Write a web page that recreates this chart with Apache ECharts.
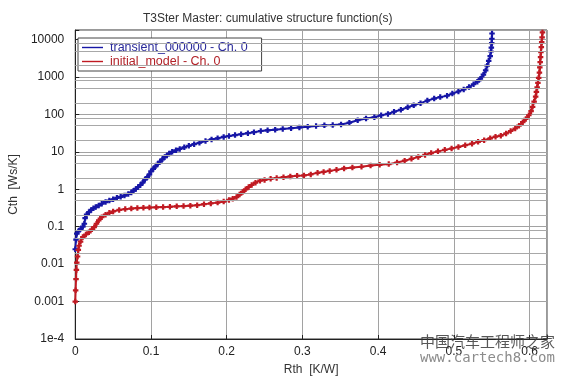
<!DOCTYPE html>
<html>
<head>
<meta charset="utf-8">
<script src="https://cdn.jsdelivr.net/npm/echarts@6/dist/echarts.min.js"></script>
<style>
html,body{margin:0;padding:0;background:#fff;}
#chart{width:565px;height:381px;}
</style>
</head>
<body>
<div id="chart"></div>
<script>
// ---- data ----
const titleText = 'T3Ster Master: cumulative structure function(s)';
const seriesNames = ['transient_000000 - Ch. 0', 'initial_model - Ch. 0'];
const xTickLabels = ['0', '0.1', '0.2', '0.3', '0.4', '0.5', '0.6'];
const yTickLabels = ['1e-4', '0.001', '0.01', '0.1', '1', '10', '100', '1000', '10000'];

// transient_000000 : [Rth K/W, Cth Ws/K]
const transientRth = [0.000,0.001,0.002,0.004,0.007,0.010,0.012,0.013,0.015,0.018,0.021,0.024,0.027,0.031,0.035,0.040,0.045,0.050,0.055,0.060,0.065,0.070,0.074,0.077,0.080,0.083,0.086,0.089,0.092,0.095,0.098,0.100,0.103,0.106,0.109,0.112,0.115,0.118,0.121,0.124,0.128,0.133,0.138,0.144,0.150,0.157,0.164,0.172,0.180,0.188,0.196,0.203,0.211,0.219,0.228,0.236,0.245,0.254,0.264,0.274,0.285,0.296,0.307,0.318,0.329,0.340,0.351,0.362,0.373,0.384,0.395,0.404,0.413,0.421,0.430,0.439,0.447,0.456,0.465,0.474,0.482,0.491,0.498,0.506,0.513,0.520,0.526,0.531,0.535,0.539,0.542,0.544,0.546,0.548,0.549,0.5495,0.550,0.5502,0.5504];
const transientCth = [0.025,0.045,0.065,0.075,0.088,0.10,0.12,0.17,0.21,0.245,0.28,0.31,0.335,0.37,0.41,0.455,0.50,0.54,0.59,0.63,0.68,0.75,0.82,0.92,1.02,1.15,1.3,1.5,1.8,2.1,2.5,3.0,3.5,4.1,4.8,5.5,6.3,7.2,8.0,9.0,10.0,11.0,12.0,13.2,14.5,16.0,17.5,19.5,21.5,23.0,25.0,26.5,28.0,29.5,31.5,33.5,36.0,37.5,39,41,43,45,47,49,51,52,54,60,70,78,84,95,103,118,133,155,175,200,234,265,290,315,360,410,465,540,640,750,900,1150,1500,2000,2700,3600,4800,6100,8000,10500,14500];

// initial_model : [Rth K/W, Cth Ws/K]
const initialRth = [0.000,0.0005,0.001,0.0015,0.002,0.003,0.004,0.005,0.007,0.010,0.014,0.018,0.022,0.025,0.028,0.031,0.035,0.040,0.045,0.050,0.058,0.066,0.074,0.082,0.090,0.098,0.107,0.116,0.125,0.134,0.143,0.152,0.161,0.170,0.179,0.188,0.196,0.203,0.208,0.213,0.217,0.221,0.225,0.229,0.233,0.238,0.244,0.250,0.258,0.266,0.275,0.284,0.293,0.302,0.311,0.320,0.328,0.336,0.345,0.355,0.366,0.378,0.390,0.402,0.414,0.425,0.435,0.444,0.453,0.462,0.470,0.479,0.488,0.497,0.506,0.515,0.524,0.532,0.540,0.548,0.555,0.562,0.569,0.575,0.581,0.586,0.591,0.595,0.599,0.602,0.604,0.606,0.608,0.609,0.610,0.611,0.612,0.613,0.6135,0.614,0.6145,0.615,0.6155,0.616,0.6165,0.617];
const initialCth = [0.001,0.002,0.004,0.007,0.011,0.016,0.024,0.031,0.040,0.053,0.062,0.071,0.085,0.097,0.12,0.148,0.18,0.21,0.235,0.255,0.28,0.295,0.305,0.315,0.32,0.325,0.33,0.335,0.34,0.35,0.355,0.365,0.375,0.40,0.42,0.44,0.47,0.52,0.56,0.62,0.72,0.85,1.0,1.15,1.3,1.5,1.7,1.78,1.9,2.0,2.1,2.2,2.3,2.35,2.5,2.75,2.9,3.1,3.3,3.6,3.8,4.0,4.3,4.5,4.7,5.2,5.8,6.5,7.3,8.3,9.3,10.3,11.3,12.3,13.5,15,16.5,18.5,20.5,23,25.5,27,31,36,42,50,62,76,95,122,160,220,300,400,530,700,950,1300,1800,2500,3400,4600,6300,8500,11500,15500];

// minor grid mantissas per decade
const minorMantissas = [2, 5, 8];

const pairs = (xs, ys) => xs.map((x, i) => [x, ys[i]]);
const yMin = 1e-4, yMax = 18000, xMax = 0.623;
const minorLines = [];
for (let k = -4; k <= 4; k++) {
  minorMantissas.forEach(m => {
    const v = m * Math.pow(10, k);
    if (v < yMax) minorLines.push({ yAxis: v });
  });
}

const plusSymbol = 'path://M1.2,0H2.8V1.2H4V2.8H2.8V4H1.2V2.8H0V1.2H1.2Z';
const font = 'Liberation Sans, Arial, sans-serif';
const blue = '#1616a6';
const red = '#c01a22';

const chart = echarts.init(document.getElementById('chart'));
chart.setOption({
  animation: false,
  backgroundColor: '#fff',
  textStyle: { fontFamily: font },
  title: {
    text: titleText, left: 138, top: 8,
    textStyle: { fontSize: 12, fontWeight: 'normal', color: '#333', fontFamily: font }
  },
  grid: {
    left: 72, right: 18, top: 30, bottom: 42,
    show: true, borderColor: '#333', borderWidth: 1, backgroundColor: '#fff'
  },
  legend: {
    data: [
      { name: seriesNames[0], textStyle: { color: '#2a2a9a' } },
      { name: seriesNames[1], textStyle: { color: '#b22228' } }
    ],
    orient: 'vertical', left: 78, top: 38,
    padding: [3, 14, 3, 4], itemGap: 1,
    itemWidth: 21, itemHeight: 13,
    icon: 'path://M0,0H21V1.4H0Z',
    backgroundColor: '#fff', borderColor: '#444', borderWidth: 1, borderRadius: 0,
    textStyle: { fontSize: 12.5, fontFamily: font, padding: [0, 0, 0, 2] }
  },
  xAxis: {
    type: 'value', min: 0, max: xMax, interval: 0.1,
    name: 'Rth  [K/W]', nameLocation: 'middle', nameGap: 25,
    nameTextStyle: { color: '#333', fontSize: 12, fontFamily: font },
    axisLine: { show: true, lineStyle: { color: '#222' } },
    axisTick: { show: true, inside: true, length: 4, lineStyle: { color: '#222' } },
    axisLabel: {
      color: '#222', fontSize: 12, margin: 7, showMaxLabel: true,
      formatter: v => {
        const i = Math.round(v / 0.1);
        return Math.abs(v - i * 0.1) < 1e-6 && xTickLabels[i] ? xTickLabels[i] : '';
      }
    },
    splitLine: { show: true, lineStyle: { color: '#a2a2a2', width: 1 } }
  },
  yAxis: {
    type: 'log', logBase: 10, min: yMin, max: yMax, splitNumber: 8,
    name: 'Cth  [Ws/K]', nameLocation: 'middle', nameGap: 49,
    nameTextStyle: { color: '#333', fontSize: 12, fontFamily: font },
    axisLine: { show: true, lineStyle: { color: '#222' } },
    axisTick: { show: true, inside: true, length: 4, lineStyle: { color: '#222' } },
    axisLabel: {
      color: '#222', fontSize: 12, margin: 11,
      formatter: v => {
        const e = Math.log10(v);
        const r = Math.round(e);
        if (Math.abs(e - r) > 1e-6) return '';
        return yTickLabels[r + 4] || '';
      }
    },
    splitLine: { show: true, lineStyle: { color: '#a2a2a2', width: 1 } }
  },
  series: [
    {
      name: '__grid', type: 'line', data: [], z: 1, silent: true,
      markLine: {
        silent: true, symbol: 'none', animation: false,
        label: { show: false },
        lineStyle: { color: '#a8a8a8', width: 1, type: 'solid' },
        data: minorLines
      }
    },
    {
      name: seriesNames[0], type: 'line', z: 3,
      data: pairs(transientRth, transientCth),
      showAllSymbol: true, symbol: plusSymbol, symbolSize: 5.5,
      lineStyle: { color: blue, width: 2 },
      itemStyle: { color: blue }
    },
    {
      name: seriesNames[1], type: 'line', z: 3,
      data: pairs(initialRth, initialCth),
      showAllSymbol: true, symbol: plusSymbol, symbolSize: 5.5,
      lineStyle: { color: red, width: 2 },
      itemStyle: { color: red }
    }
  ],
  graphic: [
    {
      type: 'text', left: 420, top: 334, z: 100,
      style: { text: '中国汽车工程师之家', font: '15px "Noto Sans CJK SC"', fill: '#3a3a3a', opacity: 0.85 }
    },
    {
      type: 'text', left: 420, top: 351, z: 100,
      style: { text: 'www.cartech8.com', font: '14px "DejaVu Sans Mono"', fill: '#8c8c8c' }
    }
  ]
});
</script>
</body>
</html>
